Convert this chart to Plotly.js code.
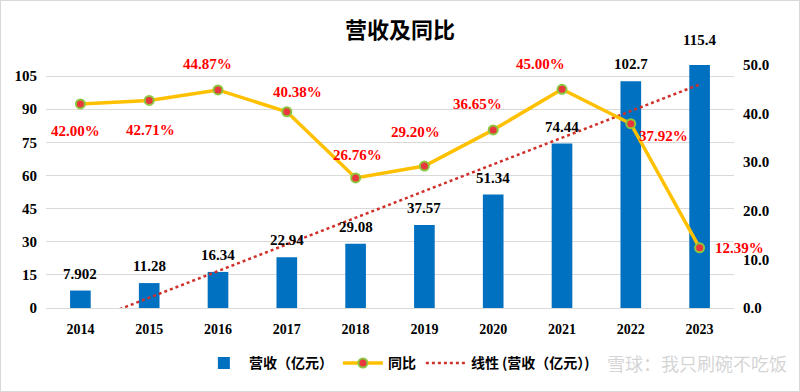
<!DOCTYPE html>
<html>
<head>
<meta charset="utf-8">
<script src="https://cdn.plot.ly/plotly-3.0.1.min.js"></script>
<style>
html,body{margin:0;padding:0;background:#fff;}
#chart{width:800px;height:392px;box-sizing:border-box;border:1px solid #d9d9d9;}
</style>
</head>
<body>
<div id="chart"></div>
<script>
// ---- data ----
const years = ['2014','2015','2016','2017','2018','2019','2020','2021','2022','2023'];
const revenue = [7.902, 11.28, 16.34, 22.94, 29.08, 37.57, 51.34, 74.44, 102.7, 115.4];
const revenueLabels = ['7.902','11.28','16.34','22.94','29.08','37.57','51.34','74.44','102.7','115.4'];
const yoy = [42.00, 42.71, 44.87, 40.38, 26.76, 29.20, 36.65, 45.00, 37.92, 12.39];
const yoyLabels = ['42.00%','42.71%','44.87%','40.38%','26.76%','29.20%','36.65%','45.00%','37.92%','12.39%'];
const leftTicks = [0, 15, 30, 45, 60, 75, 90, 105];
const rightTicks = [0, 10, 20, 30, 40, 50];
const leftMax = 110;

// label offsets (pixels) for the YoY labels
const yoyDx = [-5, 1, -11, 11, 2, -9, -16, -22, 33, 40];
const yoyDy = [-27, -30, 26, 20, 23, 34, 26, 25, -12, 0];

// Excel-style linear trendline of revenue (least squares over index 1..n)
const n = revenue.length;
const xs = revenue.map((_, i) => i + 1);
const mx = xs.reduce((a, b) => a + b, 0) / n;
const my = revenue.reduce((a, b) => a + b, 0) / n;
let sxy = 0, sxx = 0;
for (let i = 0; i < n; i++) { sxy += (xs[i] - mx) * (revenue[i] - my); sxx += (xs[i] - mx) ** 2; }
const slope = sxy / sxx, intercept = my - slope * mx;
const trend = xs.map(x => intercept + slope * x);

const serif = 'Liberation Serif, Times New Roman, serif';
const cjk = 'Noto Sans CJK SC, sans-serif';

const traces = [
  {
    type: 'bar', x: years, y: revenue, name: '营收（亿元）',
    marker: {color: '#0070C0'}, width: 0.3, yaxis: 'y', hoverinfo: 'skip'
  },
  {
    type: 'scatter', mode: 'lines+markers', x: years, y: yoy, name: '同比', yaxis: 'y2',
    line: {color: '#FFC000', width: 3.5},
    marker: {color: '#E8383D', size: 9, line: {color: '#8DC63F', width: 2}},
    hoverinfo: 'skip'
  },
  {
    type: 'scatter', mode: 'lines', x: years, y: trend, name: '线性 (营收（亿元）)', yaxis: 'y',
    line: {color: '#D0302A', width: 2.5, dash: 'dot'}, hoverinfo: 'skip'
  }
];

const annotations = [];
revenue.forEach((v, i) => {
  const clipped = v > leftMax;
  annotations.push({
    x: i, y: Math.min(v, leftMax), xref: 'x', yref: 'y', text: revenueLabels[i], showarrow: false,
    yanchor: 'middle', yshift: clipped ? 25 : 17,
    font: {family: serif, size: 15, color: '#000', weight: 'bold'}
  });
});
yoy.forEach((v, i) => {
  annotations.push({
    x: i, y: v, xref: 'x', yref: 'y2', text: yoyLabels[i], showarrow: false,
    xshift: yoyDx[i], yshift: yoyDy[i],
    font: {family: serif, size: 15, color: '#FF0000', weight: 'bold'}
  });
});
annotations.push({
  xref: 'paper', yref: 'paper', x: 1.08, y: -0.228, xanchor: 'right', yanchor: 'middle',
  text: '雪球：我只刷碗不吃饭', showarrow: false,
  font: {family: cjk, size: 18, color: 'rgba(170,170,170,0.5)'}
});

const layout = {
  width: 798, height: 390,
  margin: {l: 45, r: 65, t: 64, b: 80},
  paper_bgcolor: '#fff', plot_bgcolor: '#fff',
  title: {text: '营收及同比', x: 0.5, xanchor: 'center', y: 0.925, yanchor: 'middle',
    font: {family: cjk, size: 22, color: '#000', weight: 'bold'}},
  showlegend: true,
  legend: {orientation: 'h', x: 0.51, xanchor: 'center', y: -0.228, yanchor: 'middle',
    font: {family: cjk, size: 14, color: '#000', weight: 'bold'}, traceorder: 'normal',
    itemwidth: 40},
  bargap: 0.7,
  xaxis: {type: 'category', range: [-0.5, 9.5], autorange: false, showgrid: false, showline: true,
    linecolor: '#d9d9d9', linewidth: 1, ticks: '', ticklabelstandoff: 8,
    tickfont: {family: serif, size: 14, color: '#000', weight: 'bold'}},
  yaxis: {range: [0, leftMax], tickvals: leftTicks, showgrid: true, gridcolor: '#d9d9d9', gridwidth: 1,
    zeroline: false, showline: false, ticks: '', ticklabelstandoff: 8,
    tickfont: {family: serif, size: 15, color: '#000', weight: 'bold'}},
  yaxis2: {overlaying: 'y', side: 'right', range: [0, 50], tickvals: rightTicks, tickformat: '.1f',
    ticksuffix: '%', showgrid: false, zeroline: false, showline: false, ticks: '', ticklabelstandoff: 8,
    tickfont: {family: serif, size: 15, color: '#000', weight: 'bold'}},
  annotations: annotations
};

Plotly.newPlot('chart', traces, layout, {displayModeBar: false, staticPlot: true});
</script>
</body>
</html>
